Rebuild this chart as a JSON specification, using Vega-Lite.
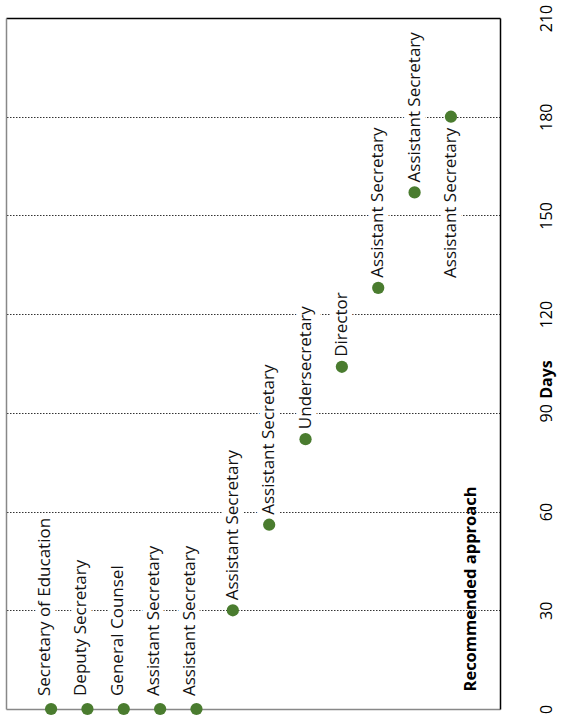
{
  "$schema": "https://vega.github.io/schema/vega-lite/v6.json",
  "autosize": {"type": "none"},
  "width": 494,
  "height": 691,
  "padding": {"left": 6, "top": 18, "right": 71, "bottom": 9},
  "background": "white",
  "config": {
    "view": {"stroke": null},
    "font": "Open Sans",
    "axis": {"labelFont": "Open Sans", "titleFont": "Open Sans"}
  },
  "data": {
    "values": [
      {"i": 1, "title": "Secretary of Education", "days": 0},
      {"i": 2, "title": "Deputy Secretary", "days": 0},
      {"i": 3, "title": "General Counsel", "days": 0},
      {"i": 4, "title": "Assistant Secretary", "days": 0},
      {"i": 5, "title": "Assistant Secretary", "days": 0},
      {"i": 6, "title": "Assistant Secretary", "days": 30},
      {"i": 7, "title": "Assistant Secretary", "days": 56},
      {"i": 8, "title": "Undersecretary", "days": 82},
      {"i": 9, "title": "Director", "days": 104},
      {"i": 10, "title": "Assistant Secretary", "days": 128},
      {"i": 11, "title": "Assistant Secretary", "days": 157},
      {"i": 12, "title": "Assistant Secretary", "days": 180}
    ]
  },
  "layer": [
    {
      "encoding": {
        "x": {
          "field": "i", "type": "quantitative",
          "scale": {"domain": [-0.24, 13.35], "nice": false, "zero": false},
          "axis": {
            "orient": "bottom", "labels": false, "ticks": false, "grid": false,
            "domain": true, "domainColor": "#888888", "domainWidth": 1.5,
            "title": "Recommended approach", "titleAngle": 270,
            "titleFontSize": 16.5, "titleFontWeight": "bold", "titleColor": "#000000",
            "titleAlign": "left", "titleBaseline": "middle",
            "titleX": 464, "titleY": -18
          }
        },
        "y": {
          "field": "days", "type": "quantitative",
          "scale": {"domain": [0, 210], "nice": false},
          "axis": {
            "orient": "right", "values": [0, 30, 60, 90, 120, 150, 180, 210],
            "ticks": false, "domain": true, "domainColor": "#000000", "domainWidth": 1.5,
            "labelAngle": 270, "labelAlign": "center", "labelBaseline": "middle",
            "labelPadding": 46, "labelFontSize": 16, "labelColor": "#000000",
            "grid": true, "gridColor": "#333333", "gridDash": [1.5, 1.5], "gridWidth": 1,
            "gridOpacity": {"condition": {"test": "datum.value == 0 || datum.value == 210", "value": 0}, "value": 1},
            "title": "Days", "titleAngle": 270, "titleFontSize": 16, "titleFontWeight": "bold",
            "titleColor": "#000000", "titleAlign": "center", "titleBaseline": "middle",
            "titleX": 46, "titleY": 361
          }
        }
      },
      "layer": [
        {
          "transform": [{"filter": "datum.i <= 5"}],
          "mark": {"type": "text", "angle": 270, "align": "left", "baseline": "alphabetic", "dx": 13, "dy": -1, "fontSize": 17, "fill": "white", "stroke": "white", "strokeWidth": 11, "strokeJoin": "round"},
          "encoding": {"text": {"field": "title"}}
        },
        {
          "transform": [{"filter": "datum.i >= 6 && datum.i <= 11"}],
          "mark": {"type": "text", "angle": 270, "align": "left", "baseline": "middle", "dx": 10, "fontSize": 17, "fill": "white", "stroke": "white", "strokeWidth": 11, "strokeJoin": "round"},
          "encoding": {"text": {"field": "title"}}
        },
        {
          "transform": [{"filter": "datum.i == 12"}],
          "mark": {"type": "text", "angle": 270, "align": "right", "baseline": "middle", "dx": -11, "fontSize": 17, "fill": "white", "stroke": "white", "strokeWidth": 11, "strokeJoin": "round"},
          "encoding": {"text": {"field": "title"}}
        },
        {
          "mark": {"type": "circle", "size": 150, "color": "#4a7c2f", "opacity": 1},
          "encoding": {}
        },
        {
          "transform": [{"filter": "datum.i <= 5"}],
          "mark": {"type": "text", "angle": 270, "align": "left", "baseline": "alphabetic", "dx": 13, "dy": -1, "fontSize": 17, "color": "#111111"},
          "encoding": {"text": {"field": "title"}}
        },
        {
          "transform": [{"filter": "datum.i >= 6 && datum.i <= 11"}],
          "mark": {"type": "text", "angle": 270, "align": "left", "baseline": "middle", "dx": 10, "fontSize": 17, "color": "#111111"},
          "encoding": {"text": {"field": "title"}}
        },
        {
          "transform": [{"filter": "datum.i == 12"}],
          "mark": {"type": "text", "angle": 270, "align": "right", "baseline": "middle", "dx": -11, "fontSize": 17, "color": "#111111"},
          "encoding": {"text": {"field": "title"}}
        }
      ]
    },
    {
      "mark": {"type": "point", "opacity": 0},
      "encoding": {
        "x": {
          "field": "i", "type": "quantitative",
          "axis": {"orient": "top", "labels": false, "ticks": false, "grid": false, "domain": true, "domainColor": "#000000", "domainWidth": 1.5, "title": null}
        },
        "y": {
          "field": "days", "type": "quantitative",
          "axis": {"orient": "left", "labels": false, "ticks": false, "grid": false, "domain": true, "domainColor": "#888888", "domainWidth": 1.5, "title": null}
        }
      }
    }
  ],
  "resolve": {"axis": {"x": "independent", "y": "independent"}}
}
